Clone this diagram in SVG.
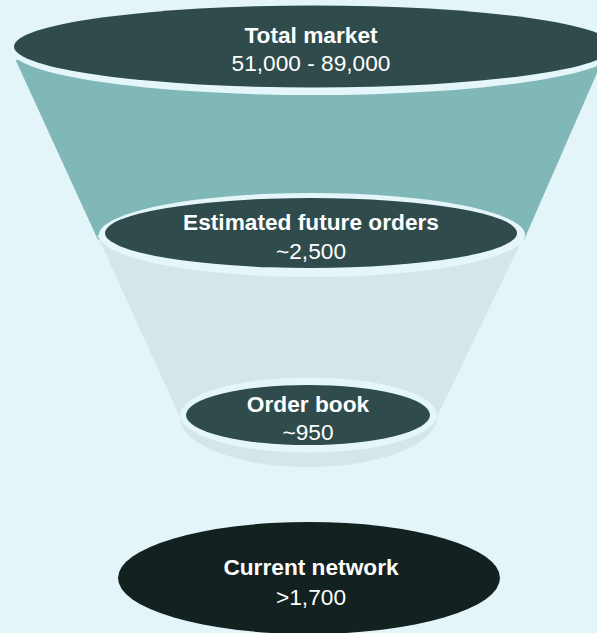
<svg xmlns="http://www.w3.org/2000/svg" width="597" height="633" viewBox="0 0 597 633">
  <style>
    .bg { fill: #e4f5f9; }
    .rim { fill: #e4f6fa; }
    .lid { fill: #304b4c; }
    .base { fill: #142121; }
    .upper { fill: #80b7b7; }
    .lower { fill: #d3e6ea; }
    text { font-family: "Liberation Sans", Arial, Helvetica, sans-serif; font-size: 22.7px; fill: #ffffff; text-anchor: middle; }
    .title { font-weight: bold; }
  </style>

  <rect class="bg" x="0" y="0" width="597" height="633"/>

  <!-- funnel bodies -->
  <g id="funnel">
    <path class="upper" d="M 15.6,60 L 98,240 L 524,240 L 602.7,60 Z"/>
    <path class="lower" d="M 97,235 L 180,417 A 128.5,50 0 0 0 437,417 L 522,240 Z"/>
  </g>

  <!-- total market -->
  <g id="total-market">
    <ellipse class="rim" cx="314" cy="50" rx="303" ry="45"/>
    <ellipse class="lid" cx="314" cy="46.5" rx="300" ry="41"/>
    <text class="title" x="311" y="43">Total market</text>
    <text x="311" y="71">51,000 - 89,000</text>
  </g>

  <!-- estimated future orders -->
  <g id="future-orders">
    <ellipse class="rim" cx="312" cy="235" rx="213" ry="42"/>
    <ellipse class="lid" cx="311" cy="233" rx="206" ry="35"/>
    <text class="title" x="311" y="230">Estimated future orders</text>
    <text x="311" y="259">~2,500</text>
  </g>

  <!-- order book -->
  <g id="order-book">
    <ellipse class="rim" cx="308.5" cy="415" rx="128.5" ry="37.5"/>
    <ellipse class="lid" cx="308" cy="415" rx="122" ry="30"/>
    <text class="title" x="308" y="412">Order book</text>
    <text x="308" y="440">~950</text>
  </g>

  <!-- current network -->
  <g id="current-network">
    <ellipse class="base" cx="309" cy="578" rx="191" ry="56"/>
    <text class="title" x="311" y="575">Current network</text>
    <text x="311" y="605">&gt;1,700</text>
  </g>
</svg>
